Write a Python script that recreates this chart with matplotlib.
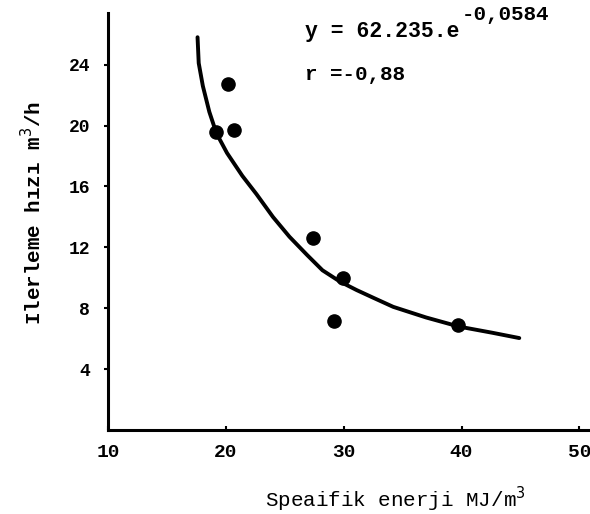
import matplotlib

matplotlib.use("Agg")

import matplotlib.pyplot as plt

# measured points
energy = [19.2, 20.2, 20.7, 27.4, 29.9, 29.2, 39.7]
rate = [19.6, 22.7, 19.7, 12.6, 10.0, 7.2, 6.9]

# fitted curve
curve_x = [17.6, 17.7, 18.05, 18.6, 19.2, 20.1, 21.4, 22.6, 24.0, 25.4, 26.9, 28.2,
           29.7, 31.1, 32.5, 34.2, 37.0, 39.8, 42.6, 44.9]
curve_y = [25.8, 24.1, 22.6, 20.9, 19.5, 18.2, 16.7, 15.5, 14.0, 12.7, 11.5, 10.5,
           9.75, 9.2, 8.7, 8.1, 7.4, 6.8, 6.4, 6.05]

x_ticks = [10, 20, 30, 40, 50]
y_ticks = [4, 8, 12, 16, 20, 24]

mono = "Liberation Mono"

fig = plt.figure(figsize=(5.9, 5.14), dpi=100)
ax = fig.add_axes([0.183, 0.163, 0.815, 0.812])

ax.plot(curve_x, curve_y, color="black", linewidth=2.8,
        solid_capstyle="round", solid_joinstyle="round")
ax.scatter(energy, rate, s=90, color="black", zorder=3)

ax.set_xlim(10, 50.8)
ax.set_ylim(0, 27.4)
ax.set_xticks(x_ticks)
ax.set_yticks(y_ticks)
ax.set_xticklabels([str(v) for v in x_ticks], fontfamily=mono, fontweight="bold", fontsize=14)
ax.set_yticklabels([str(v) for v in y_ticks], fontfamily=mono, fontweight="bold", fontsize=13)
ax.tick_params(axis="x", direction="in", length=3, width=1.5, pad=10)
ax.tick_params(axis="y", direction="out", length=3, width=1.5, pad=10)

for side in ("top", "right"):
    ax.spines[side].set_visible(False)
for side in ("left", "bottom"):
    ax.spines[side].set_linewidth(2.2)

ax.set_xlabel("Speaifik enerji MJ/m$^3$", fontfamily=mono, fontsize=15)
ax.xaxis.set_label_coords(0.598, -0.13)
ax.set_ylabel("Ilerleme hızı m$^3$/h", fontfamily=mono, fontweight="bold", fontsize=15)
ax.yaxis.set_label_coords(-0.13, 0.52)

fig.text(305 / 590, 1 - 32 / 514, "y = 62.235.e", fontfamily=mono, fontweight="bold",
         fontsize=15.5, va="center", ha="left")
fig.text(462 / 590, 1 - 14 / 514, "-0,0584", fontfamily=mono, fontweight="bold",
         fontsize=15, va="center", ha="left")
fig.text(305 / 590, 1 - 75 / 514, "r =-0,88", fontfamily=mono, fontweight="bold",
         fontsize=15, va="center", ha="left")

fig.savefig("out.png", dpi=100)
plt.close(fig)
